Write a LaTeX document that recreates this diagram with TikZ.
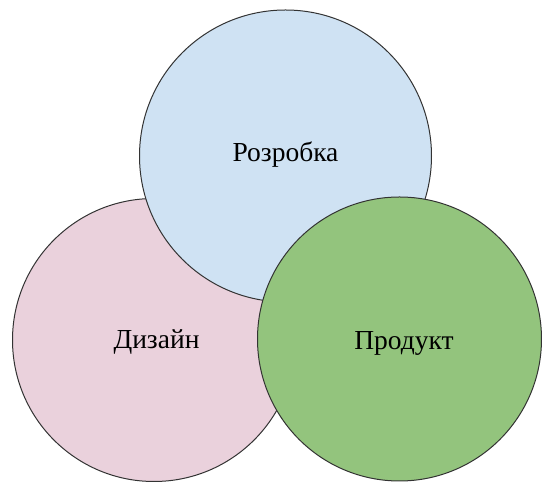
\documentclass[tikz,border=0pt]{standalone}
\usepackage{fontspec}
\setmainfont{Liberation Serif}
\definecolor{devblue}{HTML}{CFE2F3}
\definecolor{designpink}{HTML}{EAD1DC}
\definecolor{productgreen}{HTML}{93C47D}
\definecolor{rim}{HTML}{333333}
\begin{document}
\begin{tikzpicture}[x=1pt,y=1pt,
  area/.style={circle, draw=rim, line width=1pt, inner sep=0pt},
  label text/.style={anchor=base, font=\fontsize{27.5}{33}\selectfont, text=black, inner sep=0pt}]
  \useasboundingbox (0,0) rectangle (542,484);
  % back to front: design, development, product
  \node[area, fill=designpink, minimum size=283pt] (design) at (154,144) {};
  \node[area, fill=devblue, minimum size=292pt] (dev) at (285.5,328) {};
  \node[area, fill=productgreen, minimum size=284pt] (product) at (399.5,145) {};
  \node[label text] (designlabel) at (156.5,135.5) {Дизайн};
  \node[label text] (devlabel) at (285.5,322.5) {Розробка};
  \node[label text] (productlabel) at (404,134.7) {Продукт};
\end{tikzpicture}
\end{document}
